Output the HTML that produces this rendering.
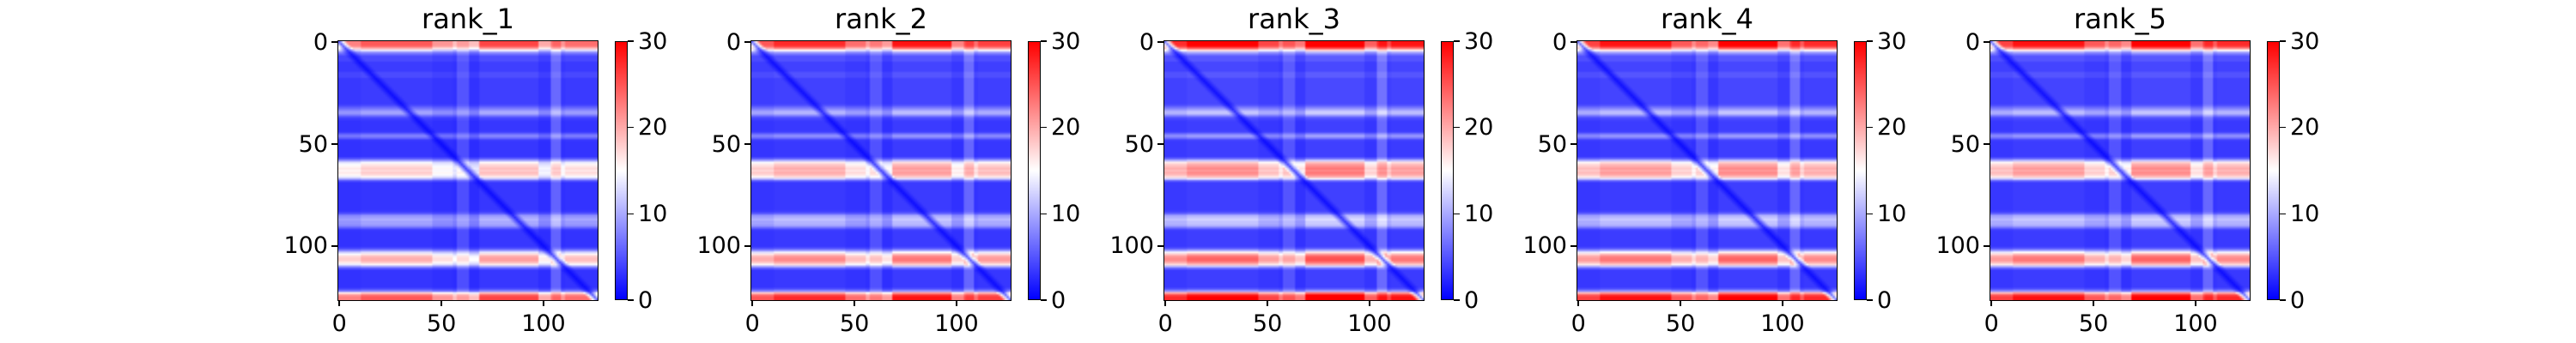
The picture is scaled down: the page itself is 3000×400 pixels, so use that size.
<!DOCTYPE html>
<html><head><meta charset="utf-8">
<style>
body{margin:0;width:3000px;height:400px;background:#fff;position:relative;overflow:hidden;font-family:"DejaVu Sans","Liberation Sans",sans-serif;}
.abs{position:absolute;}
canvas{position:absolute;}
</style></head>
<body>
<script>
// Data
const panelTitles = ["rank_1","rank_2","rank_3","rank_4","rank_5"];
const panelScale = [0.85, 0.95, 1.05, 1.0, 1.0];
const axisTicks = [0, 50, 100];
const cbarTicks = [0, 10, 20, 30];
const rowErr = [28,28,27,22,15,9,6,4,4,4,
3,3,3,3,3,4,4,4,3,3,
3,3,3,3,3,3,3,3,3,3,
3,4,6,8,10,10,7,4,3,2.5,
2.5,2.5,2.5,2.5,3,6,8,6,3,2.5,
2.5,2.5,2.5,2.5,2.5,2.5,2.5,5,10,16,
18,19,20,19,20,19,17,12,5,2.5,
2.5,2.5,2.5,2.5,2.5,2.5,2.5,2.5,2.5,2.5,
2.5,2.5,2.5,3,5,9,10,11,10,10,
9,6,3,2.5,2.5,2.5,2.5,2.5,2.5,2.5,
2.5,4,8,14,18,21,22,22,20,17,
10,5,2.5,2.5,2.5,2.5,2.5,2.5,2.5,2.5,
2.5,4,8,20,26,28,28];
const colWeight = [0.9,0.9,0.9,0.9,0.9,0.9,0.9,0.9,0.9,0.9,0.9,
1,1,1,1,1,1,1,1,1,1,1,1,1,1,1,1,1,1,1,1,1,1,1,1,1,1,1,1,1,1,1,1,1,1,1,
0.85,0.85,0.85,0.85,0.85,0.85,0.85,0.85,0.85,0.85,
0.75,0.75,0.75,0.75,0.75,0.75,0.75,0.75,0.75,0.75,0.75,0.75,0.75,
1.05,1.05,1.05,1.05,1.05,1.05,1.05,1.05,1.05,1.05,1.05,1.05,1.05,1.05,1.05,1.05,1.05,1.05,1.05,1.05,1.05,1.05,1.05,1.05,1.05,1.05,1.05,1.05,1.05,
0.8,0.8,0.8,0.8,0.8,0.8,0.8,
0.85,0.85,0.85,0.85,0.85,0.85,
0.95,0.95,0.95,0.95,0.95,0.95,0.95,0.95,0.95,0.95,0.95,0.95,0.95,0.95,0.95,0.95];
const colExtra = [0,0,0,0,0,0,0,0,0,0,0,0,0,0,0,0,0,0,0,0,0,0,0,0,0,0,0,0,0,0,0,0,0,0,0,0,0,0,0,0,
0,0,0,0,0,0,0,0,0,0,0,0,0,0,0,0,0,0,2,2,2,2,2,2,0,0,0,0,0,0,0,0,0,0,0,0,0,0,0,0,
0,0,0,0,0,0,0,0,0,0,0,0,0,0,0,0,0,0,0,0,0,0,0,0,3,3,3,3,3,0,0,0,0,0,0,0,0,0,0,0,
0,0,0,0,0,0,0];

const N = rowErr.length;
const AX_W = 302, AX_H = 302, TOP = 48, LEFT0 = 394, STEP = 481;
const VMAX = 30;
function bwr(v){
  v = Math.max(0, Math.min(VMAX, v));
  if (v < 15){ const t = v/15; return [Math.round(t*255), Math.round(t*255), 255]; }
  const t = (v-15)/15; return [255, Math.round((1-t)*255), Math.round((1-t)*255)];
}
function xScale(L, v){ return L + (v+0.5)*AX_W/N; }
function yScale(v){ return TOP + (v+0.5)*AX_H/N; }
function cbY(v){ return TOP + AX_H - v/VMAX*AX_H; }

function addText(txt, x, y, size, align, name){
  const d = document.createElement('div');
  d.className = 'abs';
  d.textContent = txt;
  d.style.fontSize = size + 'px';
  d.style.lineHeight = '1';
  d.style.whiteSpace = 'nowrap';
  d.style.top = (y - size*0.5) + 'px';
  if (align === 'right'){ d.style.right = (3000 - x) + 'px'; }
  else if (align === 'center'){ d.style.left = x + 'px'; d.style.transform = 'translateX(-50%)'; }
  else { d.style.left = x + 'px'; }
  
  
  document.body.appendChild(d);
  return d;
}
function addBox(x, y, w, h, style, name){
  const d = document.createElement('div');
  d.className = 'abs';
  d.style.left = x + 'px'; d.style.top = y + 'px';
  d.style.width = w + 'px'; d.style.height = h + 'px';
  Object.assign(d.style, style);
  
  
  document.body.appendChild(d);
  return d;
}

panelTitles.forEach((title, p) => {
  const L = LEFT0 + STEP*p;
  const c = document.createElement('canvas');
  c.width = N; c.height = N;
  c.style.left = L + 'px'; c.style.top = TOP + 'px';
  c.style.width = AX_W + 'px'; c.style.height = AX_H + 'px';
  
  
  const ctx = c.getContext('2d');
  const img = ctx.createImageData(N, N);
  for (let i = 0; i < N; i++){
    for (let j = 0; j < N; j++){
      const d = Math.abs(i-j);
      const f = Math.min(1, 0.25 + d/5);
      let v = (1 + rowErr[i]*colWeight[j]*panelScale[p] + colExtra[j]) * f;
      const col = bwr(v);
      const k = (i*N + j)*4;
      img.data[k] = col[0]; img.data[k+1] = col[1]; img.data[k+2] = col[2]; img.data[k+3] = 255;
    }
  }
  ctx.putImageData(img, 0, 0);
  document.body.appendChild(c);
  addBox(L-1, TOP-1, AX_W, AX_H, {border:'1.6px solid #000'}, 'axes-frame-' + title);
  addText(title, L + AX_W/2, 22, 32, 'center', 'panel-title-' + title);
  axisTicks.forEach(t => {
    const x = xScale(L, t);
    addBox(x-0.8, TOP+AX_H, 1.6, 7, {background:'#000'}, 'x-tick-' + t);
    addText(String(t), x, TOP+AX_H+27, 27, 'center', 'x-tick-label-' + t);
    const y = yScale(t);
    addBox(L-8, y-0.8, 7, 1.6, {background:'#000'}, 'y-tick-' + t);
    addText(String(t), L-12, y, 27, 'right', 'y-tick-label-' + t);
  });
  const CBL = L + 322;
  addBox(CBL, TOP, 15, AX_H, {background:'linear-gradient(to top,#0000ff,#ffffff,#ff0000)', border:'1.6px solid #000', boxSizing:'border-box'}, 'colorbar-' + title);
  cbarTicks.forEach(t => {
    const y = cbY(t);
    addBox(CBL+15, y-0.8, 7, 1.6, {background:'#000'}, 'colorbar-tick-' + t);
    addText(String(t), CBL+27, y, 27, 'left', 'colorbar-tick-label-' + t);
  });
});
</script>
</body></html>
